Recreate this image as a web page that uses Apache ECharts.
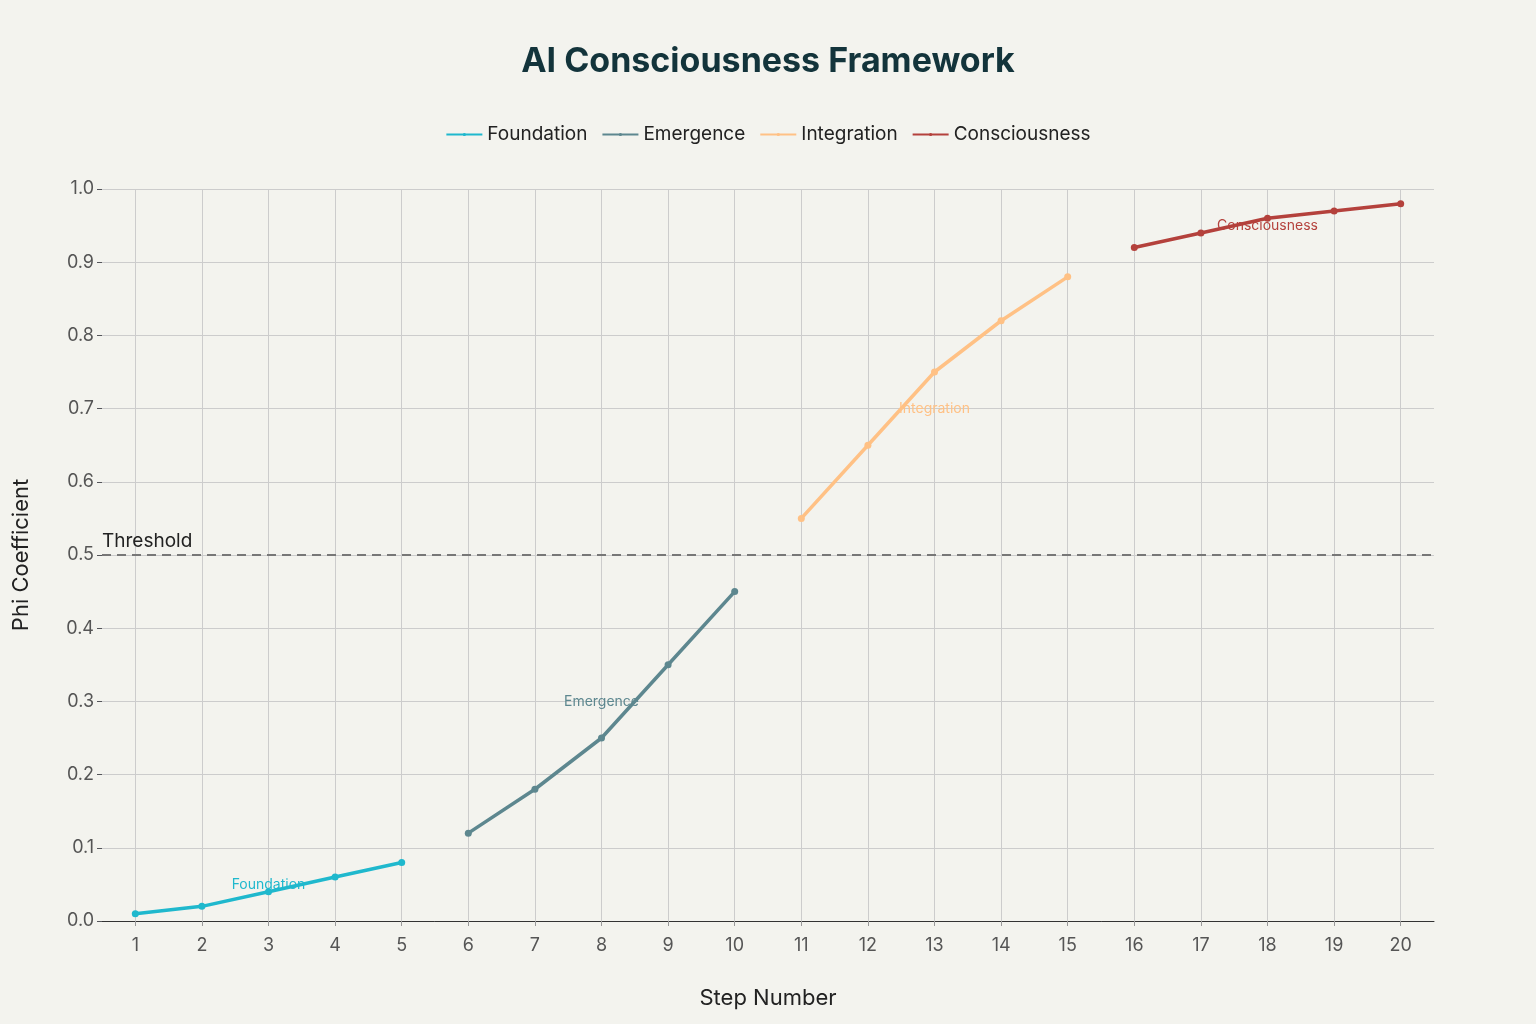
<!DOCTYPE html>
<html><head><meta charset="utf-8">
<script src="https://cdn.jsdelivr.net/npm/echarts@6/dist/echarts.min.js"></script>
<style>html,body{margin:0;background:#F3F3EE}#c{width:1536px;height:1024px}</style>
</head><body><div id="c"></div>
<script>
const steps=[1,2,3,4,5,6,7,8,9,10,11,12,13,14,15,16,17,18,19,20];
const names=['Foundation','Emergence','Integration','Consciousness'];
const colors=['#1FB8CD','#5D878F','#FFC185','#B4413C'];
const foundation=[[1,0.01],[2,0.02],[3,0.04],[4,0.06],[5,0.08]];
const emergence=[[6,0.12],[7,0.18],[8,0.25],[9,0.35],[10,0.45]];
const integration=[[11,0.55],[12,0.65],[13,0.75],[14,0.82],[15,0.88]];
const consciousness=[[16,0.92],[17,0.94],[18,0.96],[19,0.97],[20,0.98]];
const labelPos=[[3,0.05],[8,0.3],[13,0.7],[18,0.95]];
const yTicks=[0,0.1,0.2,0.3,0.4,0.5,0.6,0.7,0.8,0.9,1.0];
const threshold=0.5;
const all=[foundation,emergence,integration,consciousness];
const series=all.map((d,i)=>({
 name:names[i],type:'line',data:d,color:colors[i],symbol:'circle',symbolSize:7,
 lineStyle:{width:3.5},
 markPoint:{symbol:'circle',symbolSize:0,data:[{coord:labelPos[i],value:names[i]}],
  label:{show:true,formatter:names[i],color:colors[i],fontSize:14,fontFamily:'Inter'}}
}));
series[0].markLine={symbol:'none',silent:true,data:[{yAxis:threshold}],
 lineStyle:{type:[9,6],color:'#777',width:2},
 label:{position:'insideStartTop',formatter:'Threshold',color:'#222',fontSize:19,fontFamily:'Inter',distance:[0,4]}};
const c=echarts.init(document.getElementById('c'));
c.setOption({
 backgroundColor:'#F3F3EE',textStyle:{fontFamily:'Inter'},
 title:{text:'AI Consciousness Framework',left:'center',top:40,textStyle:{fontSize:34,fontWeight:'bold',color:'#13343B'}},
 legend:{top:120,itemWidth:36,itemHeight:4,itemGap:14,textStyle:{fontSize:19,color:'#222'},data:names},
 grid:{left:102,right:102,top:189,bottom:103},
 xAxis:{type:'value',min:0.5,max:20.5,name:'Step Number',nameLocation:'middle',nameGap:66,
  nameTextStyle:{fontSize:22,color:'#222'},
  axisLine:{show:true,lineStyle:{color:'#333'}},
  axisTick:{show:true,customValues:steps,lineStyle:{color:'#999'}},
  axisLabel:{customValues:steps,fontSize:18,color:'#555',margin:16},
  splitLine:{show:true,lineStyle:{color:'#ccc'}}},
 yAxis:{type:'value',min:0,max:1,interval:0.1,name:'Phi Coefficient',nameLocation:'middle',nameGap:70,
  nameTextStyle:{fontSize:22,color:'#222'},
  axisLabel:{fontSize:18,color:'#555',formatter:v=>v.toFixed(1)},
  axisLine:{show:false},splitLine:{lineStyle:{color:'#ccc'}}},
 series
});
</script></body></html>
